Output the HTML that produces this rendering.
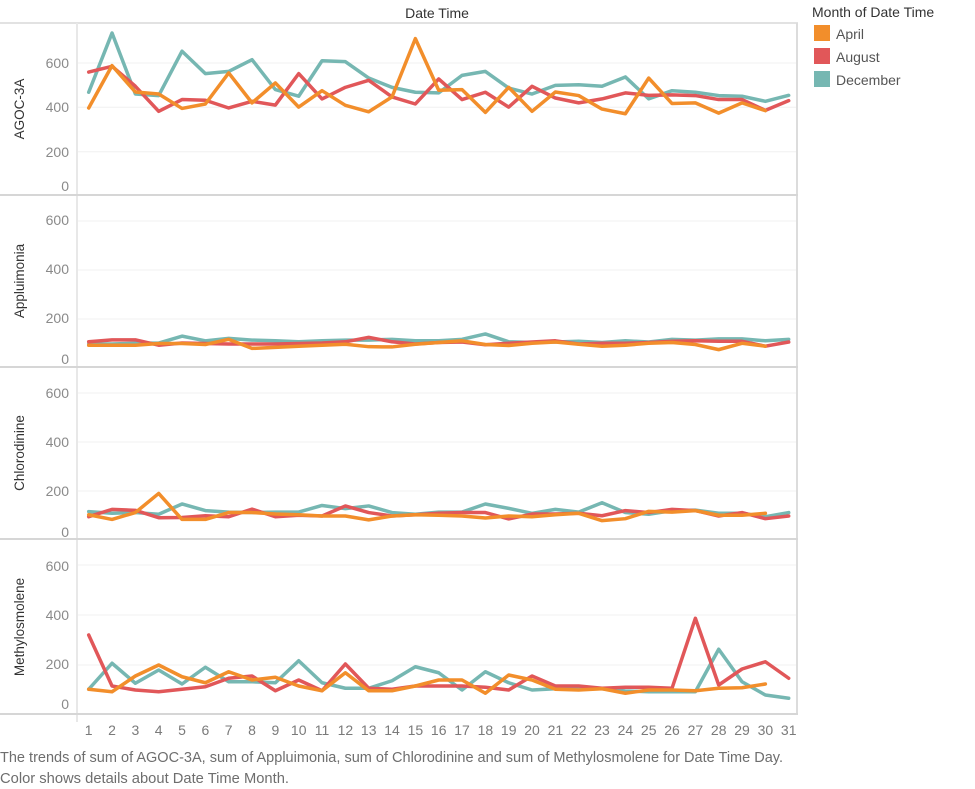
<!DOCTYPE html>
<html>
<head>
<meta charset="utf-8">
<style>
  html, body { margin: 0; padding: 0; background: #ffffff; }
  svg { display: block; font-family: "Liberation Sans", "DejaVu Sans", sans-serif; }
  .tick { fill: #8a8a8a; font-size: 14px; }
  .xt { fill: #7a7a7a; font-size: 14px; }
  .row { fill: #333333; font-size: 13.5px; }
  .grid { stroke: #f0f0f0; stroke-width: 1; }
  .div { stroke: #d6d6d6; stroke-width: 2; }
  .ln { fill: none; stroke-width: 3.5; stroke-linejoin: round; stroke-linecap: round; }
</style>
</head>
<body>
<svg width="975" height="789" viewBox="0 0 975 789" xmlns="http://www.w3.org/2000/svg">
  <rect x="0" y="0" width="975" height="789" fill="#ffffff"/>

  <!-- header -->
  <text x="437" y="18" text-anchor="middle" fill="#333333" font-size="14">Date Time</text>

  <!-- gridlines -->
  <g class="grid">
    <line x1="78" x2="796" y1="151.7" y2="151.7"/>
    <line x1="78" x2="796" y1="107.3" y2="107.3"/>
    <line x1="78" x2="796" y1="63" y2="63"/>
    <line x1="78" x2="796" y1="319" y2="319"/>
    <line x1="78" x2="796" y1="270" y2="270"/>
    <line x1="78" x2="796" y1="221" y2="221"/>
    <line x1="78" x2="796" y1="491" y2="491"/>
    <line x1="78" x2="796" y1="442" y2="442"/>
    <line x1="78" x2="796" y1="393" y2="393"/>
    <line x1="78" x2="796" y1="665" y2="665"/>
    <line x1="78" x2="796" y1="615" y2="615"/>
    <line x1="78" x2="796" y1="565" y2="565"/>
  </g>

  <!-- borders / dividers -->
  <line x1="0" x2="798" y1="23" y2="23" stroke="#e2e2e2" stroke-width="2"/>
  <line x1="77" x2="77" y1="23" y2="722" stroke="#e8e8e8" stroke-width="2"/>
  <line x1="797" x2="797" y1="23" y2="715" stroke="#dcdcdc" stroke-width="2"/>
  <line class="div" x1="0" x2="798" y1="195" y2="195"/>
  <line class="div" x1="0" x2="798" y1="367" y2="367"/>
  <line class="div" x1="0" x2="798" y1="539" y2="539"/>
  <line class="div" x1="0" x2="798" y1="714" y2="714"/>

  <!-- y tick labels -->
  <g class="tick" text-anchor="end" dominant-baseline="central">
    <text x="69" y="63">600</text>
    <text x="69" y="107">400</text>
    <text x="69" y="152">200</text>
    <text x="69" y="186">0</text>
    <text x="69" y="220">600</text>
    <text x="69" y="269">400</text>
    <text x="69" y="318">200</text>
    <text x="69" y="359">0</text>
    <text x="69" y="393">600</text>
    <text x="69" y="442">400</text>
    <text x="69" y="491">200</text>
    <text x="69" y="532">0</text>
    <text x="69" y="566">600</text>
    <text x="69" y="615">400</text>
    <text x="69" y="664">200</text>
    <text x="69" y="704">0</text>
  </g>

  <!-- row labels -->
  <g class="row" text-anchor="middle">
    <text transform="translate(24,109) rotate(-90)">AGOC-3A</text>
    <text transform="translate(24,281) rotate(-90)">Appluimonia</text>
    <text transform="translate(24,453) rotate(-90)">Chlorodinine</text>
    <text transform="translate(24,627) rotate(-90)">Methylosmolene</text>
  </g>

  <!-- x tick labels -->
  <g class="xt" text-anchor="middle">
    <text x="88.7" y="735">1</text>
    <text x="112.0" y="735">2</text>
    <text x="135.4" y="735">3</text>
    <text x="158.7" y="735">4</text>
    <text x="182.0" y="735">5</text>
    <text x="205.4" y="735">6</text>
    <text x="228.7" y="735">7</text>
    <text x="252.0" y="735">8</text>
    <text x="275.4" y="735">9</text>
    <text x="298.7" y="735">10</text>
    <text x="322.0" y="735">11</text>
    <text x="345.4" y="735">12</text>
    <text x="368.7" y="735">13</text>
    <text x="392.0" y="735">14</text>
    <text x="415.4" y="735">15</text>
    <text x="438.7" y="735">16</text>
    <text x="462.0" y="735">17</text>
    <text x="485.4" y="735">18</text>
    <text x="508.7" y="735">19</text>
    <text x="532.0" y="735">20</text>
    <text x="555.4" y="735">21</text>
    <text x="578.7" y="735">22</text>
    <text x="602.0" y="735">23</text>
    <text x="625.4" y="735">24</text>
    <text x="648.7" y="735">25</text>
    <text x="672.0" y="735">26</text>
    <text x="695.4" y="735">27</text>
    <text x="718.7" y="735">28</text>
    <text x="742.0" y="735">29</text>
    <text x="765.4" y="735">30</text>
    <text x="788.7" y="735">31</text>
  </g>

  <!-- Panel 1: AGOC-3A -->
  <g transform="translate(65.367,196) scale(23.3333,-0.2217)">
    <polyline class="ln" vector-effect="non-scaling-stroke" stroke="#76b7b2" points="1,468 2,735 3,460 4,453 5,653 6,552 7,562 8,615 9,480 10,450 11,610 12,606 13,532 14,490 15,468 16,465 17,544 18,562 19,487 20,460 21,499 22,502 23,495 24,537 25,438 26,475 27,468 28,453 29,450 30,427 31,454"/>
    <polyline class="ln" vector-effect="non-scaling-stroke" stroke="#e15759" points="1,559 2,585 3,495 4,382 5,435 6,432 7,397 8,427 9,410 10,552 11,438 12,490 13,522 14,447 15,415 16,528 17,435 18,468 19,401 20,495 21,442 22,420 23,438 24,465 25,454 26,456 27,453 28,435 29,435 30,386 31,430"/>
    <polyline class="ln" vector-effect="non-scaling-stroke" stroke="#f28e2b" points="1,397 2,588 3,469 4,460 5,395 6,415 7,555 8,420 9,510 10,401 11,475 12,409 13,380 14,447 15,710 16,477 17,480 18,377 19,490 20,382 21,469 22,453 23,392 24,371 25,532 26,417 27,420 28,374 29,420 30,385"/>
  </g>

  <!-- Panel 2: Appluimonia -->
  <g transform="translate(65.367,368) scale(23.3333,-0.245)">
    <polyline class="ln" vector-effect="non-scaling-stroke" stroke="#76b7b2" points="1,98 2,98 3,101 4,102 5,130 6,111 7,121 8,114 9,111 10,107 11,111 12,114 13,114 14,117 15,111 16,111 17,117 18,139 19,107 20,104 21,106 22,109 23,104 24,111 25,106 26,117 27,114 28,119 29,119 30,111 31,117"/>
    <polyline class="ln" vector-effect="non-scaling-stroke" stroke="#e15759" points="1,107 2,115 3,115 4,93 5,102 6,100 7,98 8,98 9,98 10,100 11,102 12,107 13,125 14,107 15,98 16,104 17,106 18,95 19,101 20,106 21,111 22,98 23,101 24,101 25,104 26,109 27,111 28,109 29,109 30,89 31,106"/>
    <polyline class="ln" vector-effect="non-scaling-stroke" stroke="#f28e2b" points="1,93 2,93 3,93 4,100 5,100 6,96 7,117 8,80 9,84 10,89 11,93 12,97 13,87 14,86 15,97 16,104 17,111 18,96 19,92 20,101 21,106 22,97 23,89 24,93 25,101 26,104 27,96 28,75 29,101 30,89"/>
  </g>

  <!-- Panel 3: Chlorodinine -->
  <g transform="translate(65.367,540) scale(23.3333,-0.245)">
    <polyline class="ln" vector-effect="non-scaling-stroke" stroke="#76b7b2" points="1,116 2,109 3,112 4,105 5,147 6,120 7,114 8,112 9,114 10,114 11,141 12,128 13,139 14,112 15,105 16,114 17,114 18,147 19,129 20,109 21,125 22,114 23,152 24,112 25,105 26,120 27,122 28,109 29,109 30,95 31,112"/>
    <polyline class="ln" vector-effect="non-scaling-stroke" stroke="#e15759" points="1,95 2,125 3,121 4,91 5,92 6,99 7,95 8,126 9,95 10,101 11,98 12,139 13,112 14,98 15,103 16,109 17,112 18,112 19,86 20,106 21,106 22,109 23,99 24,120 25,112 26,125 27,120 28,98 29,112 30,87 31,98"/>
    <polyline class="ln" vector-effect="non-scaling-stroke" stroke="#f28e2b" points="1,103 2,84 3,112 4,190 5,84 6,84 7,112 8,112 9,106 10,103 11,98 12,98 13,82 14,98 15,103 16,101 17,98 18,90 19,98 20,95 21,103 22,109 23,79 24,87 25,117 26,114 27,120 28,101 29,101 30,109"/>
  </g>

  <!-- Panel 4: Methylosmolene -->
  <g transform="translate(65.367,715) scale(23.3333,-0.25)">
    <polyline class="ln" vector-effect="non-scaling-stroke" stroke="#76b7b2" points="1,103 2,207 3,127 4,180 5,124 6,191 7,133 8,133 9,129 10,217 11,129 12,107 13,107 14,137 15,193 16,169 17,100 18,173 19,129 20,100 21,105 22,105 23,105 24,96 25,93 26,93 27,93 28,263 29,133 30,80 31,67"/>
    <polyline class="ln" vector-effect="non-scaling-stroke" stroke="#e15759" points="1,320 2,116 3,100 4,93 5,103 6,113 7,147 8,156 9,97 10,140 11,97 12,204 13,107 14,103 15,116 16,116 17,116 18,111 19,100 20,156 21,116 22,116 23,107 24,111 25,111 26,107 27,387 28,120 29,184 30,213 31,147"/>
    <polyline class="ln" vector-effect="non-scaling-stroke" stroke="#f28e2b" points="1,103 2,93 3,156 4,200 5,153 6,129 7,173 8,140 9,151 10,116 11,97 12,169 13,97 14,97 15,116 16,140 17,140 18,87 19,160 20,140 21,103 22,100 23,105 24,87 25,100 26,100 27,97 28,107 29,109 30,124"/>
  </g>

  <!-- legend -->
  <text x="812" y="17" fill="#333333" font-size="14">Month of Date Time</text>
  <rect x="814" y="25" width="16" height="16" fill="#f28e2b"/>
  <rect x="814" y="48" width="16" height="16" fill="#e15759"/>
  <rect x="814" y="71" width="16" height="16" fill="#76b7b2"/>
  <g fill="#555555" font-size="14" dominant-baseline="central">
    <text x="836" y="34">April</text>
    <text x="836" y="57">August</text>
    <text x="836" y="80">December</text>
  </g>

  <!-- caption -->
  <text x="0" y="762" fill="#6e6e6e" font-size="14.5" textLength="783" lengthAdjust="spacingAndGlyphs">The trends of sum of AGOC-3A, sum of Appluimonia, sum of Chlorodinine and sum of Methylosmolene for Date Time Day.</text>
  <text x="0" y="783" fill="#6e6e6e" font-size="14.5" textLength="289" lengthAdjust="spacingAndGlyphs">Color shows details about Date Time Month.</text>
</svg>
</body>
</html>
